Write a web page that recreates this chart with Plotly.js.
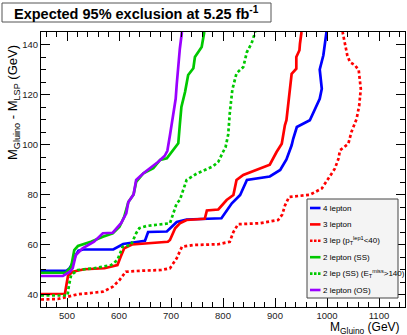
<!DOCTYPE html>
<html>
<head>
<meta charset="utf-8">
<script src="https://cdn.plot.ly/plotly-3.0.1.min.js"></script>
<style>html,body{margin:0;padding:0;background:#fff;}#chart{width:407px;height:335px;}</style>
</head>
<body>
<div id="chart"></div>
<script>
// ---- data ----
const lep4X = [450,499,505,512,516,522,531,589,608,650,656,692,711,730,797,817,833,846,890,910,922,932,935,942,967,986,990,986,993,996,999];
const lep4Y = [49.5,49.5,50.5,53,55.5,57.5,58,58,60.2,61.5,65,65.2,69,70,70.5,76.5,79.8,85.8,87.2,89.8,94,99.7,102.3,107,109.7,118.3,122.3,130,135.7,139.7,145];

const lep3X = [450,496,499,502,511,533,572,597,603,610,625,694,698,708,717,730,765,769,791,807,820,826,839,890,903,913,919,922,932,941,941,947,948,951];
const lep3Y = [40.2,40.3,44,47.5,49.1,50.1,50.5,51.8,55,58.5,60,61.1,61.8,66.5,68.5,69.8,70.3,73.6,74,77.8,79.8,85.8,87.8,91.9,97,100.3,107.7,109.7,128.3,130.3,135,137.7,140.3,145];

const lep3ptX = [450,482,501,521,569,588,601,613,642,681,698,711,721,743,791,813,820,829,871,906,914,919,927,967,990,1002,1015,1022,1025,1041,1047,1057,1062,1065,1061,1054,1044,1039,1035,1030];
const lep3ptY = [38,38.2,39.1,40.1,41.1,43.1,45.8,49.1,49.5,49.8,50.5,54.5,59.1,59.8,60.1,61.1,65,68.1,68.5,69.8,72,75.5,79,79.9,82.4,86,90.3,94.3,97.7,100.3,105,110.3,115.7,122.3,129.7,131.7,133,135.7,140.3,145];

const lep2ssX = [450,498,508,514,521,546,569,588,601,610,618,628,633,647,666,679,692,708,714,717,720,727,733,743,746,759,764];
const lep2ssY = [48.7,48.7,51.1,57.8,59.4,61.1,63.1,64.5,67.1,71.1,77,80,85,88.5,90.5,93.8,94.5,99,100.5,108,115,121,127.8,130.5,135,139,145];

const lep2metX = [450,501,504,508,521,552,585,597,607,623,633,639,653,698,711,717,730,749,781,791,800,805,810,813,818,826,839,846,855,862];
const lep2metY = [39.6,39.6,44,47.8,49.8,50.5,51.8,53.8,59.1,59.8,64.5,66.5,67.4,68.5,76.5,77.8,85.8,88.3,91.3,93.1,97,99,104,112.5,122,128.5,131,137,140.5,145];

const lep2osX = [450,492,505,511,517,530,552,569,588,604,614,618,628,633,647,666,675,688,693,698,703,709,711,714,717,721];
const lep2osY = [47.4,47.4,49,50.5,55.8,58.5,61.1,64.5,64.7,68.5,72.5,77,80,85.8,88.5,91.5,93,95.5,97.5,103.7,110,118.3,124,131.7,138.3,145];

const seriesNames = ['4 lepton','3 lepton','3 lep (p<sub>T</sub><sup>lep1</sup>&lt;40)','2 lepton (SS)','2 lep (SS) (E<sub>T</sub><sup>miss</sup>&gt;140)','2 lepton (OS)'];
const seriesColors = ['#0000ff','#ff0000','#ff0000','#00c800','#00c800','#9a00ff'];
const seriesDash = ['solid','solid','dot','solid','dot','solid'];
const seriesX = [lep4X,lep3X,lep3ptX,lep2ssX,lep2metX,lep2osX];
const seriesY = [lep4Y,lep3Y,lep3ptY,lep2ssY,lep2metY,lep2osY];

const titleText = 'Expected 95% exclusion at 5.25 fb<sup>-1</sup>';
const xTitle = 'M<sub>Gluino</sub> (GeV)';
const yTitle = 'M<sub>Gluino</sub> - M<sub>LSP</sub> (GeV)';

// ---- layout geometry ----
const W = 407, H = 335;
const M = {l:41, r:2, t:32, b:28};
const PW = W - M.l - M.r, PH = H - M.t - M.b;
const px = x => (x - M.l) / PW;
const py = y => (H - M.b - y) / PH;
const FONT = 'Liberation Sans, Arial, Helvetica, sans-serif';

const traces = seriesX.map((xs, i) => ({
  x: xs, y: seriesY[i], type: 'scatter', mode: 'lines',
  line: {color: seriesColors[i], width: 2.7, dash: seriesDash[i] === 'dot' ? '3px,2.5px' : 'solid'},
  name: seriesNames[i], showlegend: false, hoverinfo: 'skip'
}));

const shapes = [];
const annotations = [];

// title box
shapes.push({type:'rect', xref:'paper', yref:'paper', x0:px(2), x1:px(271), y0:py(22), y1:py(3),
  line:{color:'#555', width:1}, fillcolor:'#fff', layer:'above'});
annotations.push({xref:'paper', yref:'paper', x:px(136), y:py(13), xanchor:'center', yanchor:'middle',
  text:'<b>'+titleText+'</b>', showarrow:false, font:{family:FONT, size:14.5, color:'#000'}});

// legend
const LX0 = 307, LX1 = 398, LY0 = 199, LY1 = 298;
shapes.push({type:'rect', xref:'paper', yref:'paper', x0:px(LX0), x1:px(LX1), y0:py(LY1), y1:py(LY0),
  line:{color:'#444', width:1}, fillcolor:'#f4f4f4', layer:'above'});
seriesNames.forEach((n, i) => {
  const yy = 208 + i * 16.4;
  shapes.push({type:'line', xref:'paper', yref:'paper', x0:px(310), x1:px(320.5), y0:py(yy), y1:py(yy),
    line:{color:seriesColors[i], width:2.6, dash: seriesDash[i] === 'dot' ? '2.5px,1.5px' : 'solid'}, layer:'above'});
  annotations.push({xref:'paper', yref:'paper', x:px(321), y:py(yy), xanchor:'left', yanchor:'middle',
    text:n, showarrow:false, font:{family:FONT, size:8, color:'#000'}});
});

// axis titles (ROOT style: aligned to the axis end)
annotations.push({xref:'paper', yref:'paper', x:px(402), y:py(328.3), xanchor:'right', yanchor:'middle',
  text:xTitle, showarrow:false, font:{family:FONT, size:12, color:'#000'}});
annotations.push({xref:'paper', yref:'paper', x:px(13), y:py(103), xanchor:'center', yanchor:'middle',
  text:yTitle, textangle:-90, showarrow:false, font:{family:FONT, size:13, color:'#000'}});

const axisCommon = {
  showgrid:false, zeroline:false, showline:true, linecolor:'#000', linewidth:1,
  mirror:'allticks', ticks:'inside', tickcolor:'#000', tickwidth:1, ticklen:9,
  tickfont:{family:FONT, size:9.5, color:'#222'}
};

const layout = {
  width: W, height: H,
  margin: {l:M.l, r:M.r, t:M.t, b:M.b, pad:0},
  paper_bgcolor:'#fff', plot_bgcolor:'#fff',
  showlegend:false,
  xaxis: Object.assign({}, axisCommon, {range:[450,1150], tick0:500, dtick:100,
    minor:{dtick:20, ticklen:5, tickcolor:'#000', ticks:'inside'}}),
  yaxis: Object.assign({}, axisCommon, {range:[35,145], tick0:40, dtick:20,
    minor:{dtick:5, ticklen:5, tickcolor:'#000', ticks:'inside'}}),
  shapes: shapes,
  annotations: annotations
};

Plotly.newPlot('chart', traces, layout, {staticPlot:true, displayModeBar:false});
</script>
</body>
</html>
